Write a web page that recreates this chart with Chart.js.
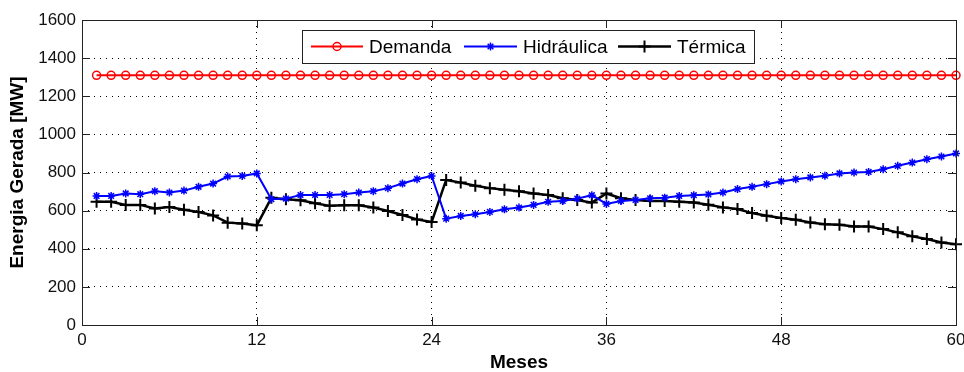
<!DOCTYPE html>
<html>
<head>
<meta charset="utf-8">
<script src="https://cdn.jsdelivr.net/npm/chart.js@4/dist/chart.umd.min.js"></script>
<style>
html,body{margin:0;padding:0;background:#fff;}
canvas{display:block;}
</style>
</head>
<body>
<canvas id="c" width="964" height="372"></canvas>
<script>
const months = [1,2,3,4,5,6,7,8,9,10,11,12,13,14,15,16,17,18,19,20,21,22,23,24,25,26,27,28,29,30,
  31,32,33,34,35,36,37,38,39,40,41,42,43,44,45,46,47,48,49,50,51,52,53,54,55,56,57,58,59,60];
const demanda = [1310,1310,1310,1310,1310,1310,1310,1310,1310,1310,1310,1310,1310,1310,1310,1310,1310,1310,1310,1310,
  1310,1310,1310,1310,1310,1310,1310,1310,1310,1310,1310,1310,1310,1310,1310,1310,1310,1310,1310,1310,
  1310,1310,1310,1310,1310,1310,1310,1310,1310,1310,1310,1310,1310,1310,1310,1310,1310,1310,1310,1310];
const hidraulica = [677,677,690,686,702,695,705,725,742,779,782,795,
  660,663,682,682,682,686,695,702,718,742,765,782,
  558,572,581,593,607,616,630,646,651,663,681,635,
  651,656,665,668,677,681,685,695,713,725,739,753,
  765,774,783,795,800,803,817,835,852,870,884,900];
const termica = [646,646,630,630,611,619,605,593,575,537,532,523,
  667,660,654,639,625,628,628,616,598,577,554,540,
  761,747,730,718,709,702,690,682,665,656,642,690,
  665,656,651,651,646,642,631,617,608,587,573,561,
  552,538,529,526,517,517,503,486,465,451,433,424];
const xTicks = [0,12,24,36,48,60];
const yTicks = [0,200,400,600,800,1000,1200,1400,1600];
const seriesNames = ['Demanda','Hidráulica','Térmica'];

const FONT = "'Liberation Sans', Arial, sans-serif";
const pts = arr => months.map((m,i)=>({x:m, y:arr[i]}));

function drawMarker(ctx, style, x, y, r, color, lw){
  ctx.save();
  ctx.strokeStyle = color; ctx.lineWidth = lw;
  ctx.beginPath();
  if (style === 'circle') { ctx.arc(x,y,r,0,Math.PI*2); }
  else if (style === 'star') {
    ctx.moveTo(x-r,y); ctx.lineTo(x+r,y); ctx.moveTo(x,y-r); ctx.lineTo(x,y+r);
    const d = r*0.7071;
    ctx.moveTo(x-d,y-d); ctx.lineTo(x+d,y+d); ctx.moveTo(x-d,y+d); ctx.lineTo(x+d,y-d);
  } else if (style === 'cross') {
    ctx.moveTo(x-r,y); ctx.lineTo(x+r,y); ctx.moveTo(x,y-r); ctx.lineTo(x,y+r);
  }
  ctx.stroke();
  ctx.restore();
}

const boxPlugin = {
  id: 'boxPlugin',
  afterDraw(chart){
    const ctx = chart.ctx;
    const a = chart.chartArea;
    const xs = chart.scales.x, ys = chart.scales.y;
    ctx.save();
    ctx.strokeStyle = '#222'; ctx.lineWidth = 1;
    ctx.strokeRect(Math.round(a.left)+0.5, Math.round(a.top)+0.5, Math.round(a.right-a.left), Math.round(a.bottom-a.top));
    const tl = 8;
    ctx.beginPath();
    xTicks.forEach(v=>{
      const x = Math.round(xs.getPixelForValue(v))+0.5;
      ctx.moveTo(x, a.bottom); ctx.lineTo(x, a.bottom-tl);
      ctx.moveTo(x, a.top); ctx.lineTo(x, a.top+tl);
    });
    yTicks.forEach(v=>{
      const y = Math.round(ys.getPixelForValue(v))+0.5;
      ctx.moveTo(a.left, y); ctx.lineTo(a.left+tl, y);
      ctx.moveTo(a.right, y); ctx.lineTo(a.right-tl, y);
    });
    ctx.stroke();

    // legend box
    const bx = 302, by = 30, bw = 452, bh = 33;
    ctx.fillStyle = '#fff';
    ctx.fillRect(bx, by, bw, bh);
    ctx.strokeStyle = '#222';
    ctx.strokeRect(bx+0.5, by+0.5, bw, bh);
    const items = [
      {x0:311, x1:363, tx:369, ds:chart.data.datasets[0]},
      {x0:464, x1:517, tx:523, ds:chart.data.datasets[1]},
      {x0:618, x1:671, tx:677, ds:chart.data.datasets[2]}
    ];
    const cy = by + bh/2;
    ctx.font = "19px " + FONT;
    ctx.textBaseline = 'middle';
    items.forEach(it=>{
      const ds = it.ds;
      ctx.strokeStyle = ds.borderColor; ctx.lineWidth = ds.borderWidth;
      ctx.beginPath(); ctx.moveTo(it.x0, cy); ctx.lineTo(it.x1, cy); ctx.stroke();
      drawMarker(ctx, ds.pointStyle, (it.x0+it.x1)/2, cy, ds.pointRadius, ds.pointBorderColor, ds.pointBorderWidth);
      ctx.fillStyle = '#000';
      ctx.fillText(ds.label, it.tx, cy+1);
    });
    ctx.restore();
  }
};

new Chart(document.getElementById('c').getContext('2d'), {
  type: 'line',
  data: {
    datasets: [
      {label: seriesNames[0], data: pts(demanda), borderColor:'#ff0000', borderWidth:2,
       pointStyle:'circle', pointRadius:4, pointBorderWidth:1.5, pointBorderColor:'#ff0000',
       pointBackgroundColor:'rgba(0,0,0,0)', clip:false, tension:0},
      {label: seriesNames[1], data: pts(hidraulica), borderColor:'#0000ff', borderWidth:2,
       pointStyle:'star', pointRadius:4, pointBorderWidth:1.5, pointBorderColor:'#0000ff',
       pointBackgroundColor:'#0000ff', clip:false, tension:0},
      {label: seriesNames[2], data: pts(termica), borderColor:'#000000', borderWidth:2.5,
       pointStyle:'cross', pointRadius:6, pointBorderWidth:2, pointBorderColor:'#000000',
       pointBackgroundColor:'#000000', clip:false, tension:0}
    ]
  },
  options: {
    responsive:false, animation:false, devicePixelRatio:1,
    layout:{padding:{left:0, right:7, top:20, bottom:0}},
    plugins:{legend:{display:false}, tooltip:{enabled:false}},
    scales:{
      x:{
        type:'linear', min:0, max:60,
        afterBuildTicks(s){ s.ticks = xTicks.map(v=>({value:v})); },
        ticks:{color:'#111', font:{family:FONT, size:17}, padding:5, maxRotation:0, callback:v=>String(v)},
        grid:{color:'#000', lineWidth:1, drawTicks:false},
        border:{display:false, dash:[1,5]},
        title:{display:true, text:'Meses', color:'#000', font:{family:FONT, size:19, weight:'bold', lineHeight:1}, padding:{top:0,bottom:0}},
        afterFit(s){ s.height = 47; s.paddingRight = 0; s.paddingLeft = 0; }
      },
      y:{
        min:0, max:1600,
        afterBuildTicks(s){ s.ticks = yTicks.map(v=>({value:v})); },
        ticks:{color:'#111', font:{family:FONT, size:17}, padding:6, callback:v=>String(v)},
        grid:{color:'#000', lineWidth:1, drawTicks:false},
        border:{display:false, dash:[1,5]},
        title:{display:true, text:'Energia Gerada [MW]', color:'#000', font:{family:FONT, size:19, weight:'bold', lineHeight:1}, padding:{top:8,bottom:0}},
        afterFit(s){ s.width = 82; s.paddingTop = 0; s.paddingBottom = 0; }
      }
    }
  },
  plugins:[boxPlugin]
});
</script>
</body>
</html>
